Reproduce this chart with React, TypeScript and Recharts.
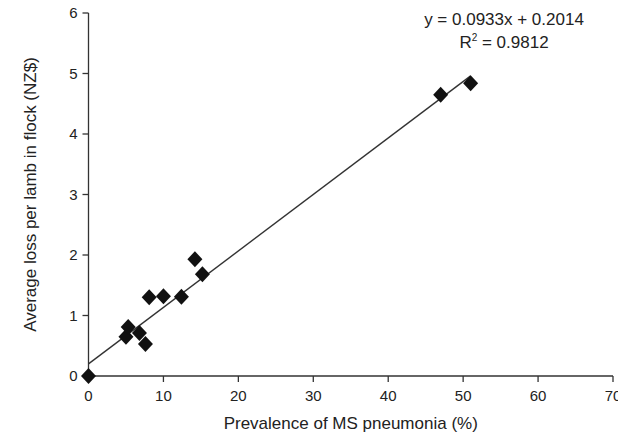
import React from 'react';
import { ScatterChart, Scatter, XAxis, YAxis, Label } from 'recharts';

const prevalence = [0, 5.0, 5.3, 6.8, 7.6, 8.1, 10.0, 12.4, 14.2, 15.2, 47.0, 51.0];
const loss = [0.0, 0.65, 0.81, 0.71, 0.53, 1.3, 1.32, 1.31, 1.93, 1.68, 4.65, 4.84];
const trendX = [0, 51];
const trendY = [0.2, 4.96];
const xTicks = [0, 10, 20, 30, 40, 50, 60, 70];
const yTicks = [0, 1, 2, 3, 4, 5, 6];

const points = prevalence.map((x, i) => ({ x, y: loss[i] }));
const trend = trendX.map((x, i) => ({ x, y: trendY[i] }));

const FONT = '"Liberation Sans", Arial, Helvetica, sans-serif';
const INK = '#222';

const Diamond = (props: any) => {
  const { cx, cy } = props;
  if (cx == null || cy == null) return <g />;
  const w = 7.5;
  const h = 8;
  return (
    <polygon
      points={`${cx},${cy - h} ${cx + w},${cy} ${cx},${cy + h} ${cx - w},${cy}`}
      fill="#111"
      stroke="none"
    />
  );
};

const NoDot = () => <g />;

export default function App() {
  return (
    <div style={{ position: 'absolute', left: 0, top: 0, width: 618, height: 435, background: '#fff', fontFamily: FONT }}>
      <ScatterChart width={618} height={435} margin={{ top: 13, right: 5, bottom: 0, left: 0 }}>
        <XAxis
          type="number"
          dataKey="x"
          domain={[0, 70]}
          ticks={xTicks}
          height={59}
          tickSize={6}
          tickMargin={8}
          stroke="#333"
          strokeWidth={1.3}
          tick={{ fill: INK, fontSize: 15, fontFamily: FONT }}
          interval={0}
        >
          <Label value="Prevalence of MS pneumonia (%)" position="insideBottom" offset={6} fill={INK} fontSize={17} fontFamily={FONT} />
        </XAxis>
        <YAxis
          type="number"
          dataKey="y"
          domain={[0, 6]}
          ticks={yTicks}
          width={88.5}
          tickSize={6}
          tickMargin={5}
          stroke="#333"
          strokeWidth={1.3}
          tick={{ fill: INK, fontSize: 15, fontFamily: FONT }}
          interval={0}
        >
          <Label value="Average loss per lamb in flock (NZ$)" angle={-90} position="insideLeft" offset={30} textAnchor="middle" fill={INK} fontSize={17} fontFamily={FONT} />
        </YAxis>
        <Scatter data={trend} line={{ stroke: '#333', strokeWidth: 1.4 }} shape={NoDot} isAnimationActive={false} />
        <Scatter data={points} shape={Diamond} isAnimationActive={false} />
      </ScatterChart>
      <div style={{ position: 'absolute', left: 404, top: 8, width: 200, textAlign: 'center', fontSize: 17, lineHeight: '23px', color: INK }}>
        <div>y = 0.0933x + 0.2014</div>
        <div>
          R<sup style={{ fontSize: 10, verticalAlign: 'top', lineHeight: '14px' }}>2</sup> = 0.9812
        </div>
      </div>
    </div>
  );
}
